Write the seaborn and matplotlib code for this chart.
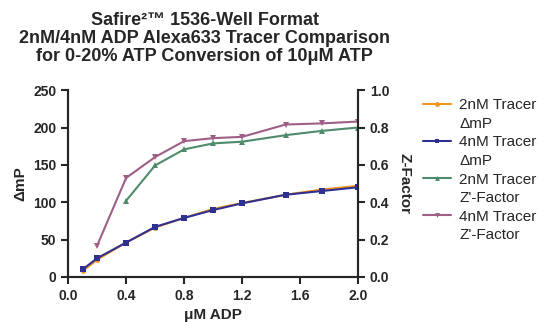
import pandas as pd
import seaborn as sns
import matplotlib.pyplot as plt
from matplotlib.lines import Line2D

# data
adp = [0.1, 0.2, 0.4, 0.6, 0.8, 1.0, 1.2, 1.5, 1.75, 2.0]
mp_2nm = [8, 23, 46, 66, 79, 91, 99, 110, 117, 122]
mp_4nm = [10, 25, 46, 67, 79, 89.5, 98.5, 110, 115, 120]
z_adp_2nm = [0.4, 0.6, 0.8, 1.0, 1.2, 1.5, 1.75, 2.0]
z_2nm = [0.408, 0.597, 0.683, 0.715, 0.724, 0.759, 0.782, 0.80]
z_adp_4nm = [0.2, 0.4, 0.6, 0.8, 1.0, 1.2, 1.5, 1.75, 2.0]
z_4nm = [0.168, 0.53, 0.642, 0.727, 0.743, 0.75, 0.816, 0.822, 0.832]

labels = [("2nM Tracer", "\u0394mP"), ("4nM Tracer", "\u0394mP"),
          ("2nM Tracer", "Z'-Factor"), ("4nM Tracer", "Z'-Factor")]
colors = ["#F7941D", "#2E3192", "#4E8B6A", "#9E5F86"]
markers = ["o", "s", "^", "v"]
sizes = [3.5, 4.5, 4, 4]

sns.set_style("ticks")
plt.rcParams["font.family"] = ["Liberation Sans", "DejaVu Sans"]

fig = plt.figure(figsize=(5.45, 3.22), dpi=100)
ax = fig.add_axes([0.125, 0.14, 0.532, 0.58])
ax2 = ax.twinx()

sns.lineplot(x=adp, y=mp_2nm, ax=ax, color=colors[0], marker=markers[0],
             markersize=sizes[0], markeredgewidth=0, linewidth=1.5)
sns.lineplot(x=adp, y=mp_4nm, ax=ax, color=colors[1], marker=markers[1],
             markersize=sizes[1], markeredgewidth=0, linewidth=1.5)
sns.lineplot(x=z_adp_2nm, y=z_2nm, ax=ax2, color=colors[2], marker=markers[2],
             markersize=sizes[2], markeredgewidth=0, linewidth=1.5)
sns.lineplot(x=z_adp_4nm, y=z_4nm, ax=ax2, color=colors[3], marker=markers[3],
             markersize=sizes[3], markeredgewidth=0, linewidth=1.5)

ax.set_xlim(0, 2.0)
ax.set_ylim(0, 250)
ax2.set_ylim(0, 1.0)
ax.set_xticks([0.0, 0.4, 0.8, 1.2, 1.6, 2.0])
ax.set_yticks([0, 50, 100, 150, 200, 250])
ax2.set_yticks([0.0, 0.2, 0.4, 0.6, 0.8, 1.0])
ax.xaxis.set_major_formatter(plt.FormatStrFormatter("%.1f"))
ax2.yaxis.set_major_formatter(plt.FormatStrFormatter("%.1f"))

for a in (ax, ax2):
    a.spines["top"].set_visible(False)
    for s in ("left", "right", "bottom"):
        a.spines[s].set_linewidth(1.5)
    a.tick_params(width=1.5, length=5, labelsize=10)
    for t in a.get_xticklabels() + a.get_yticklabels():
        t.set_fontweight("bold")

ax.set_xlabel("\u03bcM ADP", fontsize=11, fontweight="bold")
ax.set_ylabel("\u0394mP", fontsize=11, fontweight="bold")
ax2.set_ylabel("Z-Factor", fontsize=11, fontweight="bold", rotation=270, labelpad=16)

fig.text(0.376, 0.962,
         "Safire\u00b2\u2122 1536-Well Format\n2nM/4nM ADP Alexa633 Tracer Comparison\n"
         "for 0-20% ATP Conversion of 10\u03bcM ATP",
         ha="center", va="top", fontsize=13, fontweight="bold", linespacing=1.05)

# legend: marker line on first text line, second line without handle
handles, texts = [], []
for c, m, (l1, l2) in zip(colors, markers, labels):
    handles.append(Line2D([], [], color=c, marker=m, markersize=3.5,
                          markeredgewidth=0, linewidth=1.5))
    texts.append(l1)
    handles.append(Line2D([], [], linestyle="none"))
    texts.append(l2)
fig.legend(handles, texts, loc="upper left", bbox_to_anchor=(0.777, 0.695),
           frameon=False, fontsize=11, handlelength=1.8, handletextpad=0.55,
           labelspacing=0.3, borderaxespad=0, borderpad=0)

fig.savefig("out.png", dpi=100)
